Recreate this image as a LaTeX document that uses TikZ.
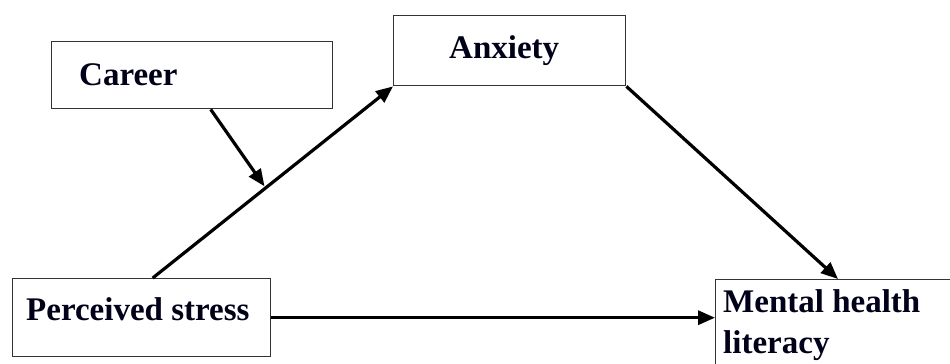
\documentclass[tikz,border=0pt]{standalone}
\usepackage{fontspec}
\setmainfont{Liberation Serif}
\usetikzlibrary{arrows.meta,calc}
\begin{document}
\begin{tikzpicture}[x=1bp,y=-1bp,
  box/.style={draw=black!80,line width=1.4bp,rectangle,inner sep=0pt,anchor=north west},
  txt/.style={font=\fontsize{33bp}{38bp}\selectfont\bfseries,inner sep=0pt,text=black!90!blue},
  conn/.style={line width=3.2bp,-{Triangle[length=17bp,width=14bp]}}]
\useasboundingbox[fill=white] (0,0) rectangle (950,363);
% boxes
\node[box,minimum width=281bp,minimum height=67bp] (car) at (51,41) {};
\node[box,minimum width=232bp,minimum height=70bp] (anx) at (393,15) {};
\node[box,minimum width=258bp,minimum height=78bp] (ps) at (12,278) {};
\node[box,minimum width=260bp,minimum height=100bp] (mhl) at (715,279) {};
% texts
\node[txt,anchor=base west] (cart) at (79,85) {Career};
\node[txt,anchor=base west] (anxt) at (449,58) {Anxiety};
\node[txt,anchor=base west] (pst) at (26,320) {Perceived stress};
\node[txt,anchor=base west] (mhlt1) at (723,312) {Mental health};
\node[txt,anchor=base west] (mhlt2) at (723,353) {literacy};
% connectors
\draw[conn] ([xshift=11bp]ps.north) -- coordinate[pos=0.47] (m) (anx.south west);
\draw[conn,shorten >=2bp] ([xshift=18.5bp]car.south) -- (m);
\draw[conn] (anx.south east) -- ([xshift=123bp]mhl.north west);
\draw[conn] (ps.east) -- (ps.east -| mhl.west);
\end{tikzpicture}
\end{document}
